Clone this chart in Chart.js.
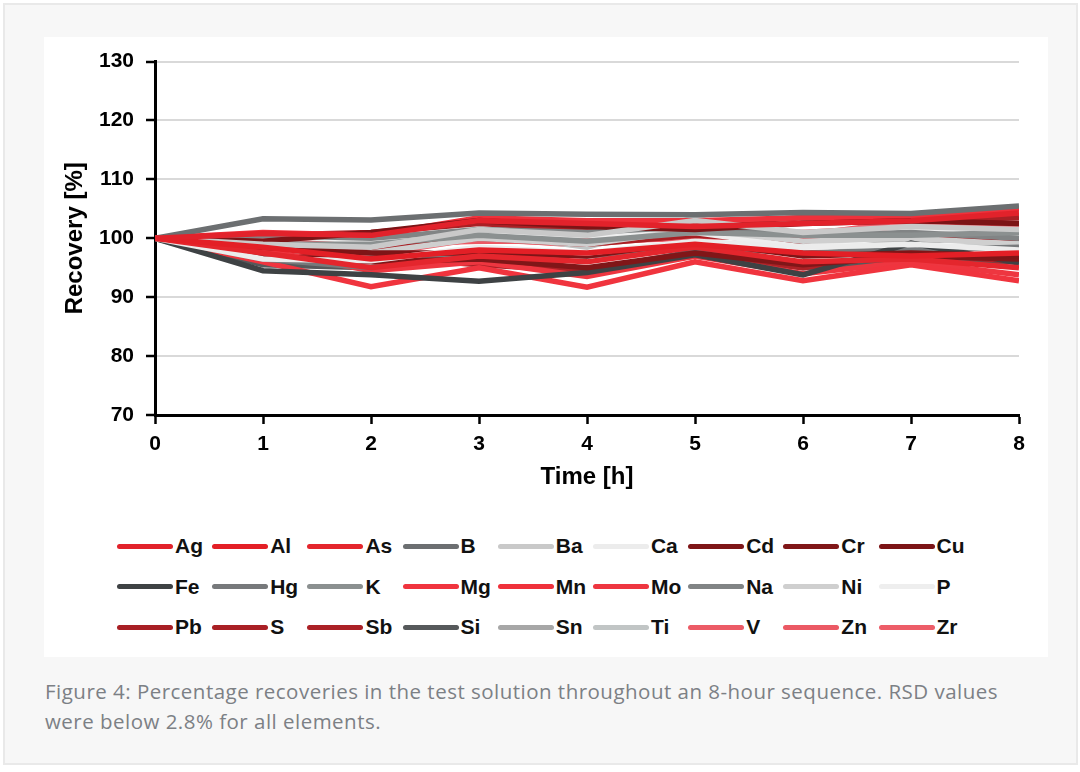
<!DOCTYPE html>
<html>
<head>
<meta charset="utf-8">
<script src="https://cdn.jsdelivr.net/npm/chart.js@4.4.1/dist/chart.umd.min.js"></script>
<style>
  html, body { margin: 0; padding: 0; background: #ffffff; width: 1080px; height: 772px; overflow: hidden; }
  #panel { position: absolute; left: 3px; top: 3px; width: 1071px; height: 758px; background: #f7f7f7; border: 2px solid #e9e9e9; }
  #white { position: absolute; left: 44px; top: 37px; width: 1004px; height: 620px; background: #ffffff; }
  #chartCanvas { position: absolute; left: 44px; top: 37px; }
  #legend { position: absolute; left: 117px; top: 526px; display: grid; grid-template-columns: repeat(9, 95.2px); grid-auto-rows: 40.5px; font-family: "Liberation Sans", Arial, sans-serif; font-weight: bold; font-size: 21px; color: #111; }
  .item { display: flex; align-items: center; white-space: nowrap; }
  .swatch { width: 56px; height: 5px; border-radius: 3px; margin-right: 2px; flex: none; }
  #caption { position: absolute; left: 45px; top: 676px; font-family: "Open Sans", "Noto Sans", sans-serif; font-size: 20.5px; line-height: 30px; color: #7c8085; white-space: nowrap; }
</style>
</head>
<body>
<div id="panel"></div>
<div id="white"></div>
<canvas id="chartCanvas" width="1003" height="463"></canvas>
<div id="legend"></div>
<div id="caption"><span id="cap1">Figure 4: Percentage recoveries in the test solution throughout an 8-hour sequence. RSD values</span><br><span id="cap2">were below 2.8% for all elements.</span></div>
<script>
// ---- data ----
const hours = [0, 1, 2, 3, 4, 5, 6, 7, 8];
const yTicks = [70, 80, 90, 100, 110, 120, 130];
const elements = ["Ag","Al","As","B","Ba","Ca","Cd","Cr","Cu","Fe","Hg","K","Mg","Mn","Mo","Na","Ni","P","Pb","S","Sb","Si","Sn","Ti","V","Zn","Zr"];

const Ag = [100, 100.8, 100.5, 103.0, 102.5, 102.0, 102.5, 103.0, 104.3];
const Al = [100, 98.5, 96.5, 98.0, 97.5, 99.0, 97.5, 97.0, 97.5];
const As = [100, 97.5, 95.0, 97.0, 96.0, 98.5, 96.0, 96.5, 95.0];
const B  = [100, 103.3, 103.1, 104.3, 104.1, 104.0, 104.4, 104.2, 105.5];
const Ba = [100, 99.0, 98.5, 101.5, 100.5, 103.0, 101.0, 102.0, 101.5];
const Ca = [100, 96.5, 96.2, 98.5, 97.5, 99.5, 98.5, 99.0, 98.0];
const Cd = [100, 98.5, 97.5, 97.5, 97.0, 99.5, 97.0, 97.5, 97.0];
const Cr = [100, 97.0, 96.0, 96.5, 95.0, 97.5, 95.5, 97.0, 96.5];
const Cu = [100, 99.5, 101.0, 103.0, 102.0, 101.5, 102.5, 103.0, 102.5];
const Fe = [100, 94.5, 93.8, 92.7, 94.2, 97.2, 93.8, 99.2, 95.8];
const Hg = [100, 96.5, 95.0, 98.0, 97.0, 98.5, 97.5, 98.0, 98.5];
const K  = [100, 99.0, 99.0, 100.5, 99.5, 101.0, 100.5, 100.5, 101.0];
const Mg = [100, 96.0, 91.8, 95.0, 91.7, 96.0, 92.8, 95.5, 92.8];
const Mn = [100, 101.0, 100.5, 103.5, 103.0, 103.0, 103.5, 103.5, 105.0];
const Mo = [100, 98.0, 94.5, 96.0, 93.5, 97.0, 94.0, 96.0, 93.8];
const Na = [100, 100.5, 100.0, 101.5, 101.0, 102.0, 100.5, 101.0, 100.0];
const Ni = [100, 98.0, 97.5, 100.0, 99.0, 101.5, 99.5, 100.0, 99.0];
const P  = [100, 100.5, 99.5, 101.0, 100.5, 101.0, 98.5, 101.5, 100.5];
const Pb = [100, 99.0, 98.0, 100.0, 99.0, 100.5, 99.5, 100.5, 100.0];
const S  = [100, 100.5, 101.0, 102.5, 101.5, 102.5, 103.5, 103.0, 103.5];
const Sb = [100, 97.5, 97.0, 95.5, 94.5, 97.0, 95.0, 97.5, 96.0];
const Si = [100, 95.5, 95.0, 98.0, 94.5, 97.8, 95.0, 96.0, 96.0];
const Sn = [100, 99.5, 98.0, 101.5, 101.0, 102.0, 101.0, 99.0, 101.5];
const Ti = [100, 98.5, 98.0, 101.0, 98.5, 103.5, 99.0, 97.5, 99.5];
const V  = [100, 99.8, 98.0, 99.8, 99.0, 100.5, 100.0, 102.5, 102.0];
const Zn = [100, 99.5, 99.0, 99.5, 99.5, 100.0, 101.0, 102.0, 102.5];
const Zr = [100, 100.2, 97.2, 100.0, 98.8, 101.5, 100.5, 103.0, 101.5];

const seriesValues = [Ag, Al, As, B, Ba, Ca, Cd, Cr, Cu, Fe, Hg, K, Mg, Mn, Mo, Na, Ni, P, Pb, S, Sb, Si, Sn, Ti, V, Zn, Zr];

// ---- styles ----
const seriesColors = {
  Ag: "#e2222b", Al: "#e31f26", As: "#e4262d", B: "#6c6f71", Ba: "#c9c9c9", Ca: "#ececec",
  Cd: "#7e1517", Cr: "#801618", Cu: "#7c1416", Fe: "#3e4244", Hg: "#77797b", K: "#8b9090",
  Mg: "#f0343e", Mn: "#ef313b", Mo: "#ee3640", Na: "#818485", Ni: "#cfcfcf", P: "#eeeeee",
  Pb: "#a81f24", S: "#a92025", Sb: "#ab2126", Si: "#56595b", Sn: "#a7a7a7", Ti: "#c1c5c5",
  V: "#ec5b66", Zn: "#eb5964", Zr: "#ed5d68"
};

const FONT = '"Liberation Sans", Arial, sans-serif';

const datasets = elements.map((el, i) => ({
  label: el,
  data: hours.map((h, j) => ({ x: h, y: seriesValues[i][j] })),
  borderColor: seriesColors[el],
  backgroundColor: seriesColors[el],
  borderWidth: 5.5,
  pointRadius: 0,
  tension: 0,
  fill: false
}));

const chart = new Chart(document.getElementById('chartCanvas'), {
  type: 'line',
  data: { datasets },
  options: {
    responsive: false,
    animation: false,
    events: [],
    layout: { padding: { top: 23, right: 28, left: 0, bottom: 0 } },
    plugins: { legend: { display: false }, tooltip: { enabled: false } },
    scales: {
      x: {
        type: 'linear', min: hours[0], max: hours[hours.length - 1],
        afterBuildTicks: (s) => { s.ticks = hours.map(v => ({ value: v })); },
        ticks: { font: { family: FONT, weight: 'bold', size: 21 }, color: '#000', padding: 8, maxRotation: 0 },
        grid: { drawOnChartArea: false, tickLength: 9, tickColor: '#000', tickWidth: 2.5 },
        border: { color: '#000', width: 3 },
        title: { display: true, text: 'Time [h]', color: '#000', font: { family: FONT, weight: 'bold', size: 24 }, padding: { top: 0, bottom: 8 } },
        afterFit: (s) => { s.height = 85; }
      },
      y: {
        min: yTicks[0], max: yTicks[yTicks.length - 1],
        afterBuildTicks: (s) => { s.ticks = yTicks.map(v => ({ value: v })); },
        ticks: { font: { family: FONT, weight: 'bold', size: 21 }, color: '#000', padding: 12 },
        grid: { color: '#d9d9d9', lineWidth: 2, tickLength: 9, tickColor: '#000', tickWidth: 2.5 },
        border: { color: '#000', width: 3 },
        title: { display: true, text: 'Recovery [%]', color: '#000', font: { family: FONT, weight: 'bold', size: 24 }, padding: { top: 17, bottom: 0 } },
        afterFit: (s) => { s.width = 111; }
      }
    }
  }
});

// ---- legend (HTML, built from the chart's datasets) ----
const legend = document.getElementById('legend');
chart.data.datasets.forEach(ds => {
  const item = document.createElement('div');
  item.className = 'item';
  const sw = document.createElement('span');
  sw.className = 'swatch';
  sw.style.background = ds.borderColor;
  const lab = document.createElement('span');
  lab.textContent = ds.label;
  item.appendChild(sw);
  item.appendChild(lab);
  legend.appendChild(item);
});

// fit caption line width to the reference
const cap1 = document.getElementById('cap1');
const target = 953;
const w = cap1.getBoundingClientRect().width;
const n = cap1.textContent.length;
const ls = (target - w) / n;
document.getElementById('caption').style.letterSpacing = ls.toFixed(2) + 'px';
</script>
</body>
</html>
